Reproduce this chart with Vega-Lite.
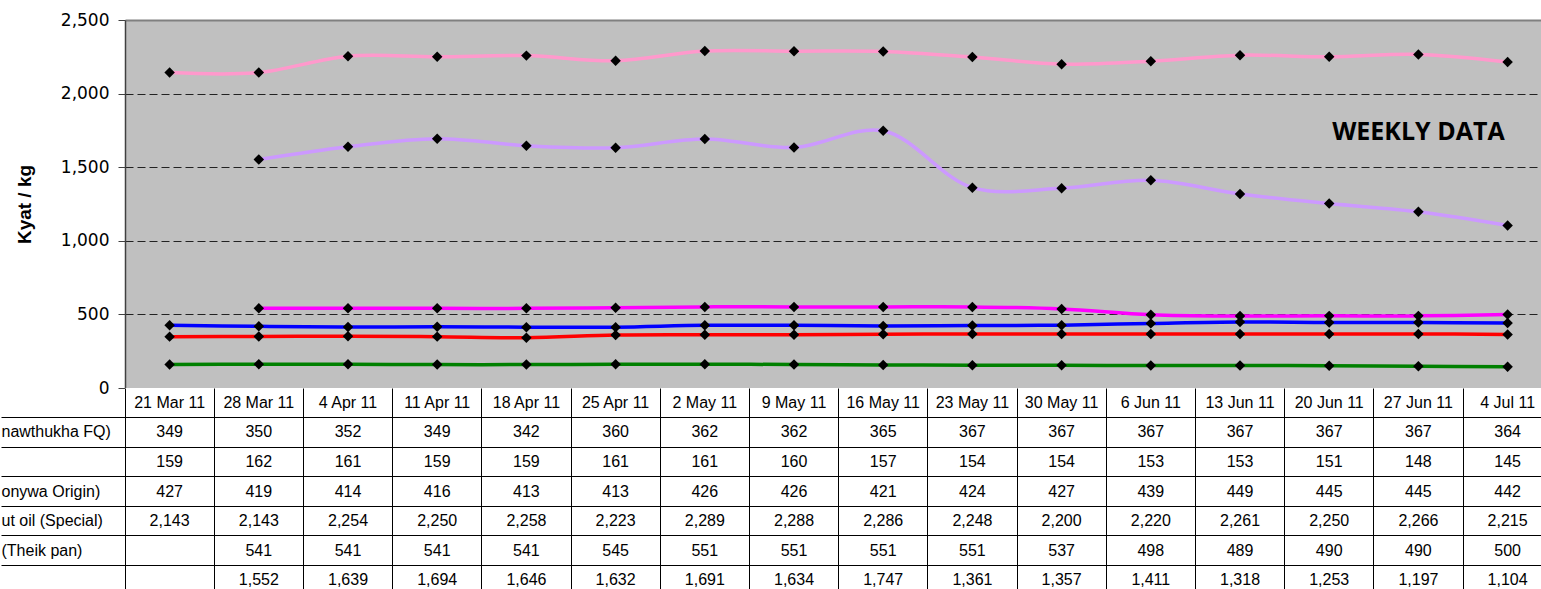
{
  "$schema": "https://vega.github.io/schema/vega-lite/v6.json",
  "padding": {"left": 0, "top": 11, "right": 0, "bottom": 0},
  "background": "white",
  "spacing": 0,
  "bounds": "flush",
  "config": {"view": {"stroke": null}, "font": "Liberation Sans"},
  "datasets": {
    "prices": [
      {"d": "21 Mar 11", "s": "A", "v": 349}, {"d": "28 Mar 11", "s": "A", "v": 350}, {"d": "4 Apr 11", "s": "A", "v": 352}, {"d": "11 Apr 11", "s": "A", "v": 349},
      {"d": "18 Apr 11", "s": "A", "v": 342}, {"d": "25 Apr 11", "s": "A", "v": 360}, {"d": "2 May 11", "s": "A", "v": 362}, {"d": "9 May 11", "s": "A", "v": 362},
      {"d": "16 May 11", "s": "A", "v": 365}, {"d": "23 May 11", "s": "A", "v": 367}, {"d": "30 May 11", "s": "A", "v": 367}, {"d": "6 Jun 11", "s": "A", "v": 367},
      {"d": "13 Jun 11", "s": "A", "v": 367}, {"d": "20 Jun 11", "s": "A", "v": 367}, {"d": "27 Jun 11", "s": "A", "v": 367}, {"d": "4 Jul 11", "s": "A", "v": 364},
      {"d": "21 Mar 11", "s": "B", "v": 159}, {"d": "28 Mar 11", "s": "B", "v": 162}, {"d": "4 Apr 11", "s": "B", "v": 161}, {"d": "11 Apr 11", "s": "B", "v": 159},
      {"d": "18 Apr 11", "s": "B", "v": 159}, {"d": "25 Apr 11", "s": "B", "v": 161}, {"d": "2 May 11", "s": "B", "v": 161}, {"d": "9 May 11", "s": "B", "v": 160},
      {"d": "16 May 11", "s": "B", "v": 157}, {"d": "23 May 11", "s": "B", "v": 154}, {"d": "30 May 11", "s": "B", "v": 154}, {"d": "6 Jun 11", "s": "B", "v": 153},
      {"d": "13 Jun 11", "s": "B", "v": 153}, {"d": "20 Jun 11", "s": "B", "v": 151}, {"d": "27 Jun 11", "s": "B", "v": 148}, {"d": "4 Jul 11", "s": "B", "v": 145},
      {"d": "21 Mar 11", "s": "C", "v": 427}, {"d": "28 Mar 11", "s": "C", "v": 419}, {"d": "4 Apr 11", "s": "C", "v": 414}, {"d": "11 Apr 11", "s": "C", "v": 416},
      {"d": "18 Apr 11", "s": "C", "v": 413}, {"d": "25 Apr 11", "s": "C", "v": 413}, {"d": "2 May 11", "s": "C", "v": 426}, {"d": "9 May 11", "s": "C", "v": 426},
      {"d": "16 May 11", "s": "C", "v": 421}, {"d": "23 May 11", "s": "C", "v": 424}, {"d": "30 May 11", "s": "C", "v": 427}, {"d": "6 Jun 11", "s": "C", "v": 439},
      {"d": "13 Jun 11", "s": "C", "v": 449}, {"d": "20 Jun 11", "s": "C", "v": 445}, {"d": "27 Jun 11", "s": "C", "v": 445}, {"d": "4 Jul 11", "s": "C", "v": 442},
      {"d": "21 Mar 11", "s": "D", "v": 2143}, {"d": "28 Mar 11", "s": "D", "v": 2143}, {"d": "4 Apr 11", "s": "D", "v": 2254}, {"d": "11 Apr 11", "s": "D", "v": 2250},
      {"d": "18 Apr 11", "s": "D", "v": 2258}, {"d": "25 Apr 11", "s": "D", "v": 2223}, {"d": "2 May 11", "s": "D", "v": 2289}, {"d": "9 May 11", "s": "D", "v": 2288},
      {"d": "16 May 11", "s": "D", "v": 2286}, {"d": "23 May 11", "s": "D", "v": 2248}, {"d": "30 May 11", "s": "D", "v": 2200}, {"d": "6 Jun 11", "s": "D", "v": 2220},
      {"d": "13 Jun 11", "s": "D", "v": 2261}, {"d": "20 Jun 11", "s": "D", "v": 2250}, {"d": "27 Jun 11", "s": "D", "v": 2266}, {"d": "4 Jul 11", "s": "D", "v": 2215},
      {"d": "28 Mar 11", "s": "E", "v": 541}, {"d": "4 Apr 11", "s": "E", "v": 541}, {"d": "11 Apr 11", "s": "E", "v": 541},
      {"d": "18 Apr 11", "s": "E", "v": 541}, {"d": "25 Apr 11", "s": "E", "v": 545}, {"d": "2 May 11", "s": "E", "v": 551}, {"d": "9 May 11", "s": "E", "v": 551},
      {"d": "16 May 11", "s": "E", "v": 551}, {"d": "23 May 11", "s": "E", "v": 551}, {"d": "30 May 11", "s": "E", "v": 537}, {"d": "6 Jun 11", "s": "E", "v": 498},
      {"d": "13 Jun 11", "s": "E", "v": 489}, {"d": "20 Jun 11", "s": "E", "v": 490}, {"d": "27 Jun 11", "s": "E", "v": 490}, {"d": "4 Jul 11", "s": "E", "v": 500},
      {"d": "28 Mar 11", "s": "F", "v": 1552}, {"d": "4 Apr 11", "s": "F", "v": 1639}, {"d": "11 Apr 11", "s": "F", "v": 1694},
      {"d": "18 Apr 11", "s": "F", "v": 1646}, {"d": "25 Apr 11", "s": "F", "v": 1632}, {"d": "2 May 11", "s": "F", "v": 1691}, {"d": "9 May 11", "s": "F", "v": 1634},
      {"d": "16 May 11", "s": "F", "v": 1747}, {"d": "23 May 11", "s": "F", "v": 1361}, {"d": "30 May 11", "s": "F", "v": 1357}, {"d": "6 Jun 11", "s": "F", "v": 1411},
      {"d": "13 Jun 11", "s": "F", "v": 1318}, {"d": "20 Jun 11", "s": "F", "v": 1253}, {"d": "27 Jun 11", "s": "F", "v": 1197}, {"d": "4 Jul 11", "s": "F", "v": 1104}
    ]
  },
  "vconcat": [
    {
      "width": 1417,
      "height": 368,
      "view": {"fill": "#C0C0C0", "stroke": null},
      "layer": [
        {
          "data": {"name": "prices"},
          "mark": {"type": "line", "interpolate": "catmull-rom", "strokeWidth": 3.5},
          "encoding": {
            "x": {"field": "d", "type": "ordinal",
              "scale": {"domain": ["21 Mar 11","28 Mar 11","4 Apr 11","11 Apr 11","18 Apr 11","25 Apr 11","2 May 11","9 May 11","16 May 11","23 May 11","30 May 11","6 Jun 11","13 Jun 11","20 Jun 11","27 Jun 11","4 Jul 11"], "range": [0, 1427.2]},
              "axis": null},
            "y": {"field": "v", "type": "quantitative",
              "scale": {"domain": [0, 2500], "nice": false},
              "axis": {
                "values": [0, 500, 1000, 1500, 2000, 2500], "format": ",.0f",
                "labelFont": "DejaVu Sans", "labelFontSize": 17, "labelColor": "black", "labelPadding": 9,
                "tickSize": 7, "tickColor": "#404040", "domainColor": "#404040", "domainWidth": 1.5,
                "grid": true,
                "gridColor": {"condition": {"test": "datum.value === 2500", "value": "#808080"}, "value": "#222222"},
                "gridDash": {"condition": {"test": "datum.value === 0 || datum.value === 2500", "value": [1, 0]}, "value": [8, 4]},
                "gridWidth": {"condition": {"test": "datum.value === 2500", "value": 2}, "value": 1},
                "gridOpacity": 1,
                "title": "Kyat / kg", "titleFont": "Liberation Sans", "titleFontSize": 19, "titleFontWeight": "bold", "titleColor": "black", "titlePadding": 26
              }},
            "color": {"field": "s", "type": "nominal",
              "scale": {"domain": ["A","B","C","D","E","F"], "range": ["#FF0000","#008000","#0000FF","#FF99CC","#FF00FF","#CC99FF"]},
              "legend": null},
            "order": {"value": null}
          }
        },
        {
          "data": {"name": "prices"},
          "mark": {"type": "point", "shape": "diamond", "filled": true, "size": 110, "color": "black", "opacity": 1},
          "encoding": {
            "x": {"field": "d", "type": "ordinal"},
            "y": {"field": "v", "type": "quantitative"}
          }
        },
        {
          "data": {"values": [{"t": "WEEKLY DATA"}]},
          "mark": {"type": "text", "font": "Open Sans", "fontWeight": "bold", "fontSize": 25, "align": "center", "baseline": "middle", "color": "black"},
          "encoding": {
            "x": {"datum": "27 Jun 11", "type": "ordinal"},
            "y": {"datum": 1740, "type": "quantitative"},
            "text": {"field": "t"}
          }
        }
      ]
    },
    {
      "width": 1417,
      "height": 201,
      "view": {"fill": "white", "stroke": null},
      "data": {"name": "prices"},
      "encoding": {
        "x": {"field": "d", "type": "ordinal",
          "scale": {"type": "band", "domain": ["21 Mar 11","28 Mar 11","4 Apr 11","11 Apr 11","18 Apr 11","25 Apr 11","2 May 11","9 May 11","16 May 11","23 May 11","30 May 11","6 Jun 11","13 Jun 11","20 Jun 11","27 Jun 11","4 Jul 11"], "range": [0, 1427.2], "paddingInner": 0, "paddingOuter": 0},
          "axis": {"orient": "top", "bandPosition": 0, "grid": true, "gridColor": "black", "gridOpacity": 1, "gridWidth": 1, "labels": false, "ticks": false, "domain": false, "title": null}},
        "y": {"field": "s", "type": "ordinal",
          "scale": {"type": "band", "domain": ["hdr","A","B","C","D","E","F"], "range": [0, 207], "paddingInner": 0, "paddingOuter": 0},
          "axis": {
            "values": ["A","B","C","D","E","F"], "bandPosition": 0,
            "grid": true, "gridColor": "black", "gridOpacity": 1, "gridWidth": 1,
            "ticks": true, "tickSize": 124, "tickColor": "black", "tickWidth": 1,
            "domain": false, "labelAlign": "left", "labelPadding": 0,
            "labelExpr": "datum.value == 'A' ? 'nawthukha FQ)' : datum.value == 'C' ? 'onywa Origin)' : datum.value == 'D' ? 'ut oil (Special)' : datum.value == 'E' ? '(Theik pan)' : ''",
            "labelFont": "Liberation Sans", "labelFontSize": 16, "labelColor": "black", "title": null
          }}
      },
      "layer": [
        {
          "mark": {"type": "text", "font": "Liberation Sans", "fontSize": 16, "color": "black"},
          "encoding": {"text": {"field": "v", "type": "quantitative", "format": ","}}
        },
        {
          "transform": [{"filter": "datum.s === 'A'"}],
          "mark": {"type": "text", "font": "Liberation Sans", "fontSize": 16, "color": "black"},
          "encoding": {
            "y": {"datum": "hdr", "type": "ordinal"},
            "text": {"field": "d", "type": "nominal"}
          }
        }
      ]
    }
  ]
}
